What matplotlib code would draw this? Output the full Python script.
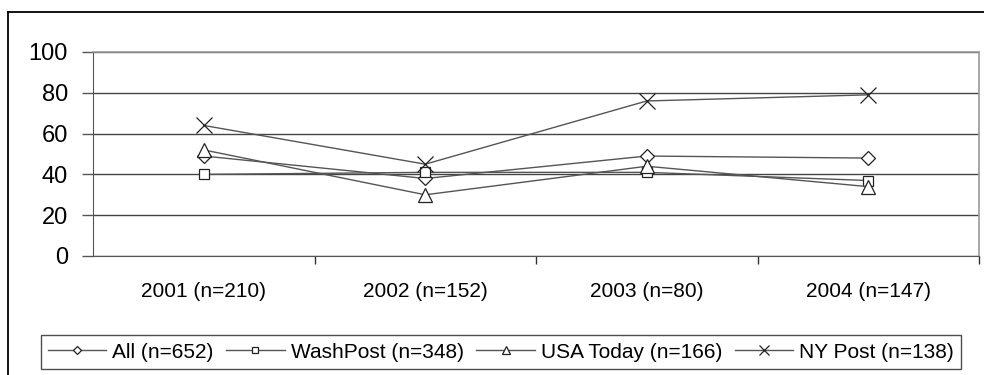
import matplotlib
matplotlib.use("Agg")
import matplotlib.pyplot as plt
from matplotlib.lines import Line2D

plt.rcParams['font.family'] = ['Liberation Sans', 'DejaVu Sans']

years = ["2001 (n=210)", "2002 (n=152)", "2003 (n=80)", "2004 (n=147)"]
series_names = ["All (n=652)", "WashPost (n=348)", "USA Today (n=166)", "NY Post (n=138)"]
all_vals = [49, 38, 49, 48]
washpost_vals = [40, 41, 41, 37]
usatoday_vals = [52, 30, 44, 34]
nypost_vals = [64, 45, 76, 79]
y_ticks = [0, 20, 40, 60, 80, 100]

W, H = 984, 375
fig = plt.figure(figsize=(W / 100, H / 100), dpi=100)
fig.patch.set_facecolor("white")

# outer chart frame (top and left edges)
fig.add_artist(Line2D([8 / W, 1.0], [1 - 11.5 / H, 1 - 11.5 / H], color="black", lw=1.3))
fig.add_artist(Line2D([8 / W, 8 / W], [1 - 11.5 / H, 0], color="black", lw=1.3))

left, right, top, bottom = 93, 979, 52, 256
ax = fig.add_axes([left / W, 1 - bottom / H, (right - left) / W, (bottom - top) / H])

x = list(range(len(years)))
styles = [
    (all_vals, "D", 7.5),
    (washpost_vals, "s", 7),
    (usatoday_vals, "^", 10),
    (nypost_vals, "x", 11),
]
for (vals, m, ms), name in zip(styles, series_names):
    ax.plot(x, vals, color="#555555", lw=1.0, marker=m, ms=ms,
            mfc="white" if m != "x" else "none", mec="#222222", mew=0.9,
            label=name, zorder=3)

ax.set_xlim(-0.5, 3.5)
ax.set_ylim(0, 100)
ax.set_yticks(y_ticks)
ax.set_yticklabels([str(v) for v in y_ticks], fontsize=17)
ax.yaxis.grid(True, color="#444444", lw=1.0, zorder=1)
ax.set_axisbelow(True)

ax.set_xticks(x)
ax.set_xticklabels(years, fontsize=15)
ax.set_xticks([0.5, 1.5, 2.5, 3.5], minor=True)
ax.tick_params(axis="x", which="major", length=0, pad=19)
ax.tick_params(axis="x", which="minor", length=6, width=1, color="#333333", direction="out")
ax.tick_params(axis="y", length=8, width=1, color="#555555", direction="out", pad=10)

for s in ["top", "right"]:
    ax.spines[s].set_color("#999999")
    ax.spines[s].set_linewidth(1.2)
ax.spines["left"].set_color("#555555")
ax.spines["bottom"].set_color("#555555")

leg_cx = (40 + 962) / 2 / W
leg_cy = 1 - 352 / H
leg = fig.legend(loc="center", bbox_to_anchor=(leg_cx, leg_cy), ncol=4,
                 fontsize=15, frameon=True, fancybox=False, edgecolor="#222222",
                 handlelength=2.8, handletextpad=0.3, columnspacing=0.6,
                 borderpad=0.35, markerscale=0.6)
leg.get_frame().set_linewidth(1.0)

fig.savefig("out.png", dpi=100)
